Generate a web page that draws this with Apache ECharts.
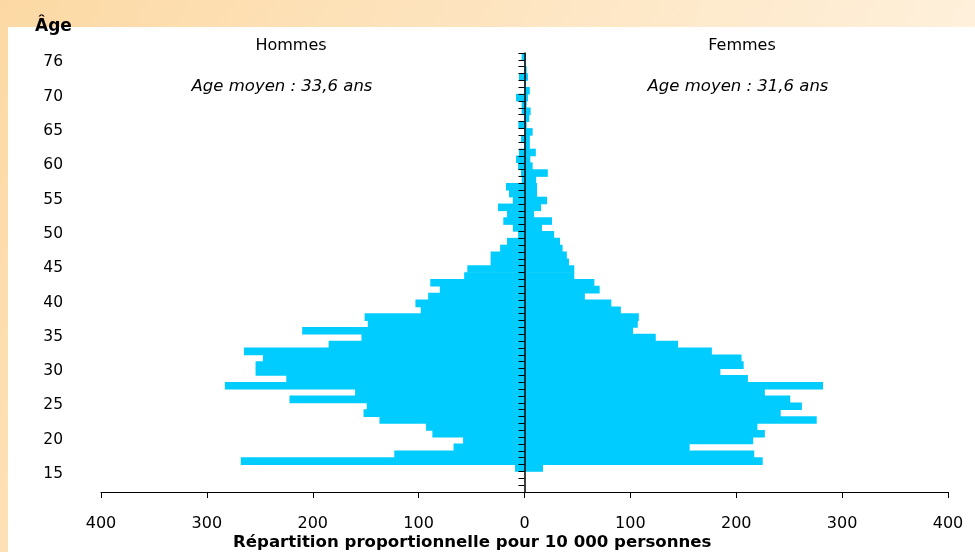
<!DOCTYPE html>
<html>
<head>
<meta charset="utf-8">
<script src="https://cdn.jsdelivr.net/npm/echarts@6/dist/echarts.min.js"></script>
<style>
  html, body { margin: 0; padding: 0; }
  #chart { width: 975px; height: 552px; }
</style>
</head>
<body>
<div id="chart"></div>
<script>
// catégories d'âge (de bas en haut)
var ages = ['12','13','14','15','16','17','18','19','20','21','22','23','24','25','26','27','28','29',
    '30','31','32','33','34','35','36','37','38','39','40','41','42','43','44','45','46','47','48','49',
    '50','51','52','53','54','55','56','57','58','59','60','61','62','63','64','65','66','67','68','69',
    '70','71','72','73','74','76'];

// âges affichés sur l'axe
var ageLabels = ['15','20','25','30','35','40','45','50','55','60','65','70','76'];

// répartition pour 10 000 personnes
var hommes = [0, 0, 0,
    9, 268, 123, 67, 58,
    87, 93, 137, 152, 149,
    222, 160, 283, 225, 254,
    254, 247, 265, 185, 154,
    210, 148, 151, 98, 103,
    91, 80, 89, 57, 54,
    32, 32, 23, 16.5, 6,
    11, 20, 16.5, 25, 11,
    14.6, 17.5, 2.7, 3.3, 6,
    8, 5.2, 0, 3.3, 0,
    5.8, 0, 2.7, 2.7, 8,
    0, 0, 5.2, 0, 0,
    2.7];

var femmes = [0, 0, 0,
    17.5, 225, 217, 156, 216,
    227, 220, 276, 242, 262,
    251, 227, 282, 211, 185,
    207, 205, 177, 145, 124,
    102.5, 107, 108, 91, 82,
    57, 71, 66, 47, 47,
    42, 40, 36, 33.5, 28,
    16.5, 26, 9, 15.6, 21.3,
    11.8, 11.8, 11, 22, 7.7,
    5.5, 10.7, 5, 5, 7.7,
    2, 4.5, 5.8, 2, 3.2,
    5, 1, 3.2, 2, 0.8,
    1.4];

var xTicks = { min: -400, max: 400, step: 100 };

var chart = echarts.init(document.getElementById('chart'));

var font = 'DejaVu Sans';
var barColor = '#00ccff';

var option = {
    animation: false,
    textStyle: { fontFamily: font },
    graphic: [
        { // fond dégradé
            type: 'rect', z: -10, silent: true,
            shape: { x: 0, y: 0, width: 975, height: 552 },
            style: {
                fill: new echarts.graphic.LinearGradient(0, 0, 1, 1, [
                    { offset: 0, color: '#fcd9a4' },
                    { offset: 1, color: '#fff7ec' }
                ])
            }
        },
        { // panneau blanc
            type: 'rect', z: -9, silent: true,
            shape: { x: 8, y: 27, width: 967, height: 525 },
            style: { fill: '#ffffff' }
        },
        {
            type: 'text', left: 35, top: 18,
            style: { text: 'Âge', font: 'bold 17px ' + font, fill: '#000' }
        },
        {
            type: 'text', x: 291, y: 46,
            style: { text: 'Hommes', font: '16px ' + font, fill: '#000', textAlign: 'center', textVerticalAlign: 'middle' }
        },
        {
            type: 'text', x: 742, y: 46,
            style: { text: 'Femmes', font: '16px ' + font, fill: '#000', textAlign: 'center', textVerticalAlign: 'middle' }
        },
        {
            type: 'text', x: 282, y: 87,
            style: { text: 'Age moyen : 33,6 ans', font: 'italic 16.5px ' + font, fill: '#000', textAlign: 'center', textVerticalAlign: 'middle' }
        },
        {
            type: 'text', x: 738, y: 87,
            style: { text: 'Age moyen : 31,6 ans', font: 'italic 16.5px ' + font, fill: '#000', textAlign: 'center', textVerticalAlign: 'middle' }
        },
        {
            type: 'text', x: 233, y: 543,
            style: { text: 'Répartition proportionnelle pour 10 000 personnes', font: 'bold 16.6px ' + font, fill: '#000', textAlign: 'left', textVerticalAlign: 'middle' }
        }
    ],
    grid: { left: 101, right: 27, top: 53, bottom: 60 },
    xAxis: {
        type: 'value',
        min: xTicks.min,
        max: xTicks.max,
        interval: xTicks.step,
        splitLine: { show: false },
        axisLine: { show: true, onZero: false, lineStyle: { color: '#000', width: 1 } },
        axisTick: { show: true, length: 6, lineStyle: { color: '#000' } },
        axisLabel: {
            fontSize: 16, color: '#000', margin: 24,
            formatter: function (v) { return Math.abs(v); }
        }
    },
    yAxis: [
        { // axe central (0)
            type: 'category',
            data: ages,
            z: 10,
            axisLine: { show: true, onZero: true, lineStyle: { color: '#000', width: 1.5 } },
            axisTick: { show: true, interval: 0, length: 6, lineStyle: { color: '#000' } },
            axisLabel: { show: false },
            splitLine: { show: false }
        },
        { // étiquettes à gauche
            type: 'category',
            data: ages,
            position: 'left',
            axisLine: { show: false, onZero: false },
            axisTick: { show: false },
            splitLine: { show: false },
            axisLabel: {
                fontSize: 15.5, color: '#000', margin: 38,
                verticalAlign: 'top', lineHeight: 12,
                interval: function (index, value) { return ageLabels.indexOf(value) >= 0; }
            }
        }
    ],
    series: [
        {
            name: 'Hommes',
            type: 'bar',
            yAxisIndex: 0,
            data: hommes.map(function (v) { return -v; }),
            barWidth: 7.6,
            barGap: '-100%',
            itemStyle: { color: barColor }
        },
        {
            name: 'Femmes',
            type: 'bar',
            yAxisIndex: 0,
            data: femmes,
            barWidth: 7.6,
            barGap: '-100%',
            itemStyle: { color: barColor }
        }
    ]
};

chart.setOption(option);
</script>
</body>
</html>
